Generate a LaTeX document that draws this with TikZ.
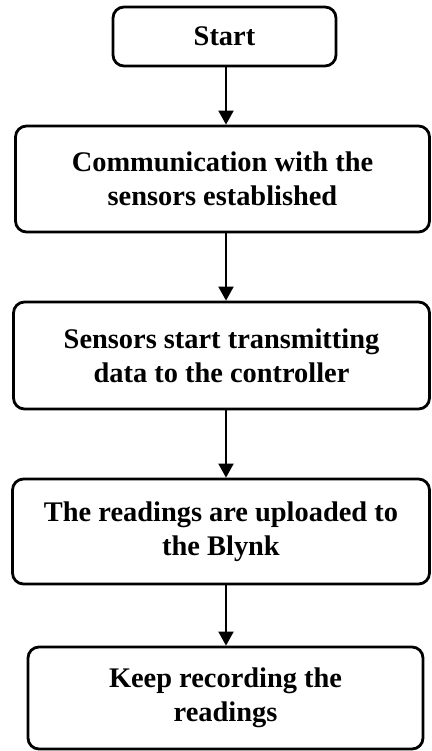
\documentclass[tikz,border=0pt]{standalone}
\usepackage{fontspec}
\setmainfont{Liberation Serif}
\usetikzlibrary{arrows.meta}
\begin{document}
\begin{tikzpicture}[x=1pt,y=-1pt,
  box/.style={draw,line width=2.8pt,rounded corners=11pt,align=center,
    font=\fontsize{28.4}{34}\selectfont\bfseries,inner sep=0pt},
  arr/.style={line width=2pt,-{Triangle[width=15pt,length=14pt]}}]
\useasboundingbox (0,0) rectangle (431,751);
\node[box,minimum width=223pt,minimum height=59pt] (n1) at (224.5,36.5) {Start};
\node[box,minimum width=414pt,minimum height=106pt] (n2) at (222.5,179) {Communication with the\\sensors established};
\node[box,minimum width=416pt,minimum height=107pt] (n3) at (221.5,355.5) {Sensors start transmitting\\data to the controller};
\node[box,minimum width=417pt,minimum height=105pt] (n4) at (221,531.5) {The readings are uploaded to\\the Blynk};
\node[box,minimum width=395pt,minimum height=102pt] (n5) at (225.5,698) {Keep recording the\\readings};
\coordinate (ax) at (226,0);
\draw[arr] (n1.south -| ax) -- (n2.north -| ax);
\draw[arr] (n2.south -| ax) -- (n3.north -| ax);
\draw[arr] (n3.south -| ax) -- (n4.north -| ax);
\draw[arr] (n4.south -| ax) -- (n5.north -| ax);
\end{tikzpicture}
\end{document}
